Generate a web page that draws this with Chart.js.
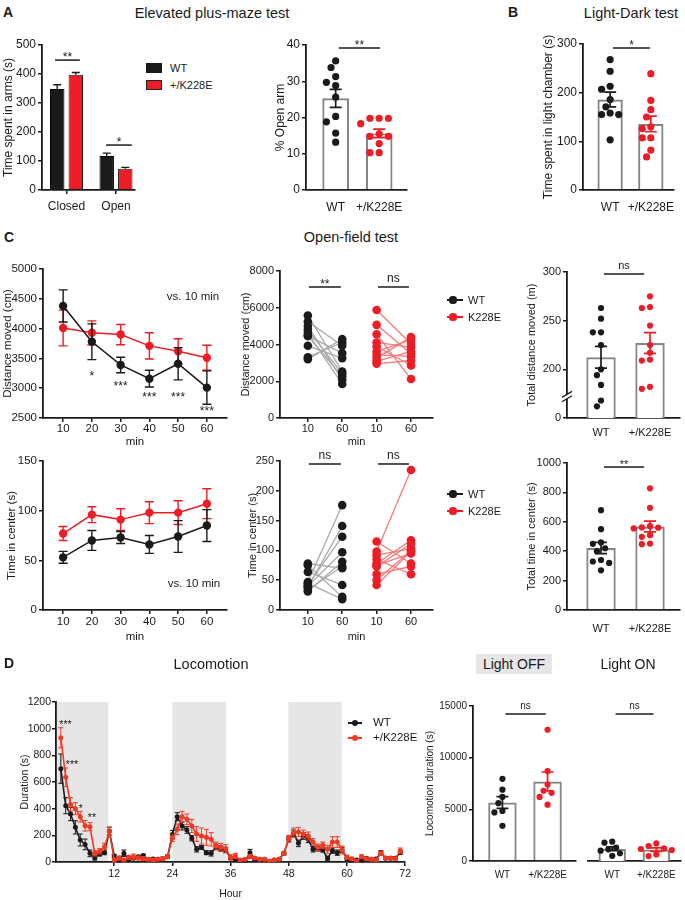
<!DOCTYPE html>
<html>
<head>
<meta charset="utf-8">
<script src="https://cdn.jsdelivr.net/npm/chart.js@4.4.0/dist/chart.umd.min.js"></script>
<style>
body { margin: 0; background: #fff; font-family: "Liberation Sans", Arial, sans-serif; }
#fig { position: relative; width: 685px; height: 900px; overflow: hidden; background: #fff; }
</style>
</head>
<body>
<div id="fig"></div>
<script>
// ---- data ----
const armGroups = ['Closed', 'Open'];
const armWT = [348, 117];
const armWTErr = [15, 10];
const armK = [397, 73];
const armKErr = [8, 5];

const genotypes = ['WT', '+/K228E'];
const openArmWT = [35.6, 33.8, 31.3, 29.7, 28.8, 25.6, 20.3, 18.8, 15.7, 13.2];
const openArmK = [19.8, 19.8, 19.8, 18.3, 15.5, 14.8, 14.8, 12.8, 10.3, 10.3];
const lightDarkWT = [268, 244, 213, 207, 186, 171, 158, 155, 155, 103];
const lightDarkK = [239, 184, 165, 150, 130, 126, 107, 107, 82, 68];

const minutes = [10, 20, 30, 40, 50, 60];
const distWT = [4380, 3780, 3390, 3160, 3410, 3010];
const distWTErr = [270, 300, 130, 140, 270, 280];
const distK = [4010, 3930, 3900, 3710, 3620, 3510];
const distKErr = [300, 200, 170, 220, 210, 210];
const centerWT = [53, 70, 73, 66, 74, 85];
const centerWTErr = [6, 10, 6, 9, 16, 16];
const centerK = [77, 96, 91, 98, 98, 107];
const centerKErr = [7, 8, 11, 11, 12, 15];

const pairLabels = ['10', '60', '10', '60'];
const dist10WT = [5580, 5250, 5010, 4800, 4620, 4470, 4470, 3930, 3310, 3200];
const dist60WT = [2530, 3930, 2080, 2410, 1850, 3530, 2260, 3260, 4110, 4290];
const dist10K = [5880, 5070, 4560, 4110, 3890, 3620, 3440, 3260, 3080, 2950];
const dist60K = [4040, 3490, 2120, 3840, 2860, 4250, 3350, 4400, 3620, 3130];
const center10WT = [78, 75, 64, 47, 45, 42, 40, 38, 34, 31];
const center60WT = [70, 22, 42, 176, 18, 123, 97, 141, 73, 81];
const center10K = [115, 98, 92, 85, 78, 75, 73, 60, 50, 42];
const center60K = [78, 235, 103, 60, 117, 95, 111, 73, 100, 98];

const totalDistWT = [263, 252, 238, 238, 225, 200, 194, 184, 168, 162];
const totalDistK = [275, 264, 263, 245, 225, 217, 210, 209, 182, 180];
const totalCenterWT = [679, 550, 460, 450, 420, 400, 340, 330, 320, 270];
const totalCenterK = [828, 695, 570, 562, 560, 555, 509, 498, 452, 448];

const hours = [1, 2, 3, 4, 5, 6, 7, 8, 9, 10, 11, 12,
  13, 14, 15, 16, 17, 18, 19, 20, 21, 22, 23, 24,
  25, 26, 27, 28, 29, 30, 31, 32, 33, 34, 35, 36,
  37, 38, 39, 40, 41, 42, 43, 44, 45, 46, 47, 48,
  49, 50, 51, 52, 53, 54, 55, 56, 57, 58, 59, 60,
  61, 62, 63, 64, 65, 66, 67, 68, 69, 70, 71];
const locoWT = [700, 422, 360, 260, 165, 132, 65, 30, 60, 70, 232, 45,
  10, 65, 20, 28, 40, 48, 15, 22, 20, 15, 40, 207,
  340, 270, 240, 178, 95, 110, 70, 65, 115, 102, 90, 30,
  20, 5, 5, 70, 20, 15, 20, 5, 15, 20, 65, 170,
  215, 140, 195, 170, 95, 102, 90, 28, 85, 70, 90, 25,
  5, 15, 10, 28, 20, 22, 70, 28, 28, 28, 72];
const locoWTErr = [110, 60, 50, 50, 45, 40, 25, 15, 15, 15, 30, 12,
  10, 25, 10, 10, 10, 10, 8, 8, 8, 8, 12, 30,
  30, 30, 25, 20, 20, 15, 15, 20, 20, 20, 20, 10,
  10, 5, 5, 25, 8, 8, 8, 5, 8, 8, 10, 20,
  25, 25, 25, 25, 20, 20, 15, 15, 20, 20, 20, 10,
  5, 8, 8, 8, 8, 8, 15, 10, 10, 10, 15];
const locoK = [932, 635, 432, 400, 340, 272, 265, 65, 80, 115, 228, 15,
  30, 15, 35, 40, 30, 25, 20, 15, 20, 25, 40, 178,
  245, 340, 320, 270, 210, 195, 185, 170, 120, 110, 100, 35,
  45, 15, 20, 40, 30, 20, 20, 5, 15, 20, 65, 175,
  220, 225, 210, 195, 150, 110, 125, 95, 150, 150, 90, 35,
  25, 5, 40, 25, 20, 15, 65, 30, 30, 25, 85];
const locoKErr = [75, 70, 50, 45, 40, 40, 30, 20, 20, 25, 30, 15,
  15, 10, 15, 20, 15, 15, 10, 10, 10, 15, 15, 25,
  40, 40, 40, 50, 55, 60, 60, 50, 30, 30, 30, 20,
  20, 10, 10, 15, 10, 10, 10, 5, 10, 10, 15, 25,
  35, 35, 30, 30, 25, 25, 25, 30, 40, 40, 30, 15,
  10, 5, 15, 10, 10, 10, 15, 10, 10, 10, 20];
const darkPhases = [[0, 10.8], [24, 35.1], [47.9, 58.9]];

const lightOffWT = [7950, 6900, 6200, 5600, 4850, 4700, 3400];
const lightOffK = [12700, 8700, 7400, 6800, 6600, 6200, 5450];
const lightOnWT = [1870, 1770, 1300, 1130, 1000, 750, 500];
const lightOnK = [1700, 1450, 1220, 1160, 1060, 640, 480];

// ---- drawing ----
const FONT = '"Liberation Sans", Arial, sans-serif';
const INK = '#1a1a1a';
const RED = '#ee1c25';
const ORANGE = '#f03a24';
const fig = document.getElementById('fig');

const mean = a => a.reduce((s, v) => s + v, 0) / a.length;
const sem = a => {
    const m = mean(a);
    return Math.sqrt(a.reduce((s, v) => s + (v - m) * (v - m), 0) / (a.length - 1)) / Math.sqrt(a.length);
};

function text(str, x, y, size, opt = {}) {
    const d = document.createElement('div');
    d.textContent = str;
    d.style.cssText = `position:absolute;left:${x}px;top:${y}px;font-size:${size}px;line-height:1;white-space:nowrap;color:${INK};` +
        `transform:translate(${opt.left ? '0' : '-50%'},-50%);font-weight:${opt.bold ? 'bold' : 'normal'};` +
        (opt.bg ? `background:${opt.bg};padding:${opt.pad};` : '');
    fig.appendChild(d);
}

function box(x, y, w, h, color, border) {
    const d = document.createElement('div');
    d.style.cssText = `position:absolute;left:${x}px;top:${y}px;width:${w}px;height:${h}px;background:${color};box-sizing:border-box;` +
        (border ? `border:1px solid ${border};` : '');
    fig.appendChild(d);
}

function lineKey(x1, x2, cx, y, color, label, tx, size, lw, r) {
    box(x1, y - lw / 2, x2 - x1, lw, color);
    const d = document.createElement('div');
    d.style.cssText = `position:absolute;left:${cx - r}px;top:${y - r}px;width:${2 * r}px;height:${2 * r}px;border-radius:50%;background:${color};`;
    fig.appendChild(d);
    text(label, tx, y, size, { left: true });
}

// error bars drawn right after their own dataset
const errorBars = {
    id: 'errorBars',
    afterDatasetDraw(chart, args) {
        const ds = chart.data.datasets[args.index];
        if (!ds.errors) return;
        const ys = chart.scales[args.meta.yAxisID];
        const ctx = chart.ctx;
        ctx.save();
        ctx.lineWidth = ds.errWidth || 1.4;
        args.meta.data.forEach((el, j) => {
            const d = ds.data[j];
            const v = typeof d === 'object' ? d.y : d;
            const e = ds.errors[j];
            const yTop = ys.getPixelForValue(v + e);
            const yBot = ds.errUp ? el.y : ys.getPixelForValue(v - e);
            const w = (ds.errCap || 8) / 2;
            ctx.strokeStyle = Array.isArray(ds.errColor) ? ds.errColor[j] : (ds.errColor || ds.borderColor);
            ctx.beginPath();
            ctx.moveTo(el.x, yTop); ctx.lineTo(el.x, yBot);
            ctx.moveTo(el.x - w, yTop); ctx.lineTo(el.x + w, yTop);
            if (!ds.errUp) { ctx.moveTo(el.x - w, yBot); ctx.lineTo(el.x + w, yBot); }
            ctx.stroke();
        });
        ctx.restore();
    }
};

// significance bars and stars, given in data units
function sig(marks, size) {
    return {
        id: 'sig',
        afterDraw(chart) {
            const { ctx } = chart;
            const xs = chart.scales.x, ys = chart.scales.y;
            ctx.save();
            ctx.strokeStyle = INK; ctx.fillStyle = INK; ctx.lineWidth = 1.5;
            ctx.textAlign = 'center'; ctx.textBaseline = 'alphabetic';
            ctx.font = size + 'px ' + FONT;
            marks.forEach(m => {
                const y = ys.getPixelForValue(m.y);
                if (m.x2 != null) {
                    const a = xs.getPixelForValue(m.x1), b = xs.getPixelForValue(m.x2);
                    ctx.beginPath(); ctx.moveTo(a, y); ctx.lineTo(b, y); ctx.stroke();
                    ctx.fillText(m.text, (a + b) / 2, m.text === 'ns' ? y - 5 : y + 1);
                } else {
                    ctx.fillText(m.text, xs.getPixelForValue(m.x), y + size * 0.575);
                }
            });
            ctx.restore();
        }
    };
}

function bands(ranges, color) {
    return {
        id: 'bands',
        beforeDraw(chart) {
            const { ctx, chartArea: a } = chart;
            const xs = chart.scales.x;
            ctx.save();
            ctx.fillStyle = color;
            ranges.forEach(([s, e]) => {
                const x1 = xs.getPixelForValue(s), x2 = xs.getPixelForValue(e);
                ctx.fillRect(x1, a.top, x2 - x1, a.bottom - a.top);
            });
            ctx.restore();
        }
    };
}

function axisBreak(value) {
    return {
        id: 'axisBreak',
        afterDraw(chart) {
            const { ctx } = chart;
            const y = chart.scales.y.getPixelForValue(value);
            const x = chart.chartArea.left;
            ctx.save();
            ctx.fillStyle = '#fff';
            ctx.fillRect(x - 3, y - 2, 6, 4);
            ctx.strokeStyle = INK; ctx.lineWidth = 1.3;
            [-2.2, 2.2].forEach(d => {
                ctx.beginPath(); ctx.moveTo(x - 5, y + d + 3); ctx.lineTo(x + 5, y + d - 3); ctx.stroke();
            });
            ctx.restore();
        }
    };
}

// simple beeswarm: offsets computed in pixels, returned in x units
function swarm(values, cx, pxX, pxY, diam) {
    const placed = [];
    const out = new Array(values.length);
    const order = values.map((v, i) => i).sort((a, b) => values[b] - values[a]);
    const steps = [0, -1, 1, -2, 2, -3, 3, -4, 4, -5, 5];
    order.forEach(i => {
        const py = values[i] * pxY;
        let off = 0;
        for (const s of steps) {
            const px = s * diam * 0.6;
            if (placed.every(p => Math.hypot(p.px - px, p.py - py) >= diam)) { off = px; break; }
        }
        placed.push({ px: off, py });
        out[i] = { x: cx + off / pxX, y: values[i] };
    });
    return out;
}

// area = page coordinates of the plot area
function draw(area, o, datasets, plugins, baseType) {
    const f = o.font;
    const left = o.yTitleX != null ? Math.round(o.yTitleX - 0.6 * f) : area.l;
    const top = area.t - (o.padTop || 30);
    const right = area.r + (o.padRight || 6);
    const bottom = o.xTitleY != null ? Math.round(o.xTitleY + 0.6 * f) : area.b + (o.xH || 26);
    const cv = document.createElement('canvas');
    cv.width = right - left;
    cv.height = bottom - top;
    cv.style.cssText = `position:absolute;left:${left}px;top:${top}px;`;
    fig.appendChild(cv);
    const yW = area.l - left, xH = bottom - area.b;
    const font = { size: f, family: FONT };
    const marks = { drawOnChartArea: false, drawTicks: true, tickLength: 4, color: INK, lineWidth: 1.5, offset: false };

    new Chart(cv, {
        type: baseType || 'bar',
        data: { datasets },
        options: {
            responsive: false,
            animation: false,
            events: [],
            layout: { padding: { left: 0, top: area.t - top, right: right - area.r, bottom: 0 } },
            plugins: { legend: { display: false }, tooltip: { enabled: false } },
            scales: {
                x: {
                    type: 'linear', min: o.x.min, max: o.x.max, offset: false,
                    afterFit: s => { s.height = xH; },
                    afterBuildTicks: s => { s.ticks = o.x.ticks.map(v => ({ value: v })); },
                    ticks: { font, color: INK, padding: o.x.pad ?? 3, maxRotation: 0, autoSkip: false, callback: o.x.cb || (v => String(v)) },
                    grid: Object.assign({}, marks, { drawTicks: !!o.x.marks }),
                    border: { color: INK, width: 1.8 },
                    title: { display: !!o.x.title, text: o.x.title || '', font, color: INK, padding: 0 }
                },
                y: {
                    display: !o.y.hidden, min: o.y.min, max: o.y.max,
                    afterFit: s => { s.width = yW; },
                    ticks: { font, color: INK, padding: o.y.pad ?? 2, stepSize: o.y.step, callback: o.y.cb || (v => String(v)) },
                    grid: marks,
                    border: { color: INK, width: 1.8 },
                    title: { display: !!o.y.title, text: o.y.title || '', font, color: INK, padding: 0 }
                }
            }
        },
        plugins: [errorBars].concat(plugins || [])
    });
}

// bar (mean, SEM) with individual animals on top
function dotPlot(area, o, wt, k) {
    const pxX = (area.r - area.l) / (o.x.max - o.x.min);
    const pxY = (area.b - area.t) / (o.y.max - o.y.min);
    const diam = o.r * 2 + 0.6;
    const datasets = [
        {
            type: 'bar', data: [{ x: 0, y: mean(wt) }, { x: 1, y: mean(k) }],
            backgroundColor: '#fff', borderColor: '#858585', borderWidth: 2.2,
            barPercentage: o.bar, categoryPercentage: 1,
            errors: [sem(wt), sem(k)], errColor: [INK, RED], errCap: 12, errWidth: 1.7, order: 3
        },
        {
            type: 'scatter', data: swarm(wt, 0, pxX, pxY, diam),
            backgroundColor: INK, pointBackgroundColor: INK, pointBorderWidth: 0, pointRadius: o.r, order: 1
        },
        {
            type: 'scatter', data: swarm(k, 1, pxX, pxY, diam),
            backgroundColor: RED, pointBackgroundColor: RED, pointBorderWidth: 0, pointRadius: o.r, order: 2
        }
    ];
    o.x.ticks = [0, 1];
    o.x.cb = v => genotypes[v];
    draw(area, o, datasets, [sig(o.sig, o.font)].concat(o.extra || []));
}

function timeCourse(area, o, wt, wtE, k, kE) {
    const ds = (vals, errs, color, order) => ({
        type: 'line', data: minutes.map((m, i) => ({ x: m, y: vals[i] })),
        borderColor: color, backgroundColor: color, pointBackgroundColor: color, pointBorderWidth: 0,
        pointRadius: 4.2, borderWidth: 1.5, errors: errs, errCap: 9, order
    });
    o.x.ticks = minutes;
    draw(area, o, [ds(wt, wtE, INK, 0), ds(k, kE, RED, 1)], [sig(o.stars || [], 12)], 'line');
}

function paired(area, o, a10, a60, b10, b60) {
    const datasets = [];
    const add = (v10, v60, x0, line, dot, order) => {
        v10.forEach((v, i) => {
            datasets.push({
                type: 'line', data: [{ x: x0, y: v }, { x: x0 + 1, y: v60[i] }],
                borderColor: line, borderWidth: 1.3, pointRadius: 0, order: 5
            });
        });
        datasets.push({
            type: 'scatter', data: v10.map(v => ({ x: x0, y: v })).concat(v60.map(v => ({ x: x0 + 1, y: v }))),
            backgroundColor: dot, pointBackgroundColor: dot, pointBorderWidth: 0, pointRadius: 4.3, order
        });
    };
    add(a10, a60, 1, '#a8a8a8', INK, 1);
    add(b10, b60, 3, '#f27a7a', RED, 0);
    o.x.ticks = [1, 2, 3, 4];
    o.x.cb = (v, i) => pairLabels[i];
    draw(area, o, datasets, [sig(o.sig, 12)], 'line');
}

// ---- panel A ----
text('A', 3, 12, 14, { left: true, bold: true });
text('Elevated plus-maze test', 212, 13, 14.5);
draw({ l: 42, t: 45, r: 135, b: 190 }, {
    font: 12, yTitleX: 8.5, xH: 26,
    x: { min: -0.495, max: 1.384, ticks: [0, 1], cb: v => armGroups[v], marks: true, pad: 5 },
    y: { min: 0, max: 500, step: 100, title: 'Time spent in arms (s)' }
}, [
    {
        type: 'bar', data: armWT.map((v, i) => ({ x: i, y: v })), backgroundColor: INK, borderColor: '#000',
        borderWidth: 1, categoryPercentage: 0.75, barPercentage: 0.78, errors: armWTErr, errUp: true, errColor: INK
    },
    {
        type: 'bar', data: armK.map((v, i) => ({ x: i, y: v })), backgroundColor: RED, borderColor: '#222',
        borderWidth: 1, categoryPercentage: 0.75, barPercentage: 0.78, errors: armKErr, errUp: true, errColor: INK
    }
], [sig([{ x1: -0.23, x2: 0.27, y: 448, text: '**' }, { x1: 0.8, x2: 1.32, y: 155, text: '*' }], 12)]);
box(146, 63, 16, 9.5, INK);
box(146, 80, 16, 9.5, RED, '#222');
text('WT', 170, 68, 11, { left: true });
text('+/K228E', 170, 85, 11, { left: true });

dotPlot({ l: 306, t: 45, r: 408, b: 190 }, {
    font: 12, yTitleX: 280, xH: 26, r: 3.6, bar: 0.614,
    x: { min: -0.682, max: 1.636, pad: 10 },
    y: { min: 0, max: 40, step: 10, title: '% Open arm' },
    sig: [{ x1: 0.07, x2: 1.02, y: 39.2, text: '**' }]
}, openArmWT, openArmK);

// ---- panel B ----
text('B', 508, 12, 14, { left: true, bold: true });
text('Light-Dark test', 631, 13, 14.5);
dotPlot({ l: 583, t: 44, r: 682, b: 190 }, {
    font: 12, yTitleX: 548, xH: 26, r: 3.6, bar: 0.622, padRight: 3,
    x: { min: -0.667, max: 1.556, pad: 10 },
    y: { min: 0, max: 300, step: 100, title: 'Time spent in light chamber (s)' },
    sig: [{ x1: 0.07, x2: 0.98, y: 292, text: '*' }]
}, lightDarkWT, lightDarkK);

// ---- panel C ----
text('C', 4, 237, 14, { left: true, bold: true });
text('Open-field test', 351, 237, 14.5);

timeCourse({ l: 43, t: 269, r: 227, b: 418 }, {
    font: 11.5, yTitleX: 8, xTitleY: 442,
    x: { min: 3, max: 67, marks: true, pad: 0, title: 'min' },
    y: { min: 2500, max: 5000, step: 500, title: 'Distance moved (cm)' },
    stars: [
        { x: 20, y: 3260, text: '*' }, { x: 30, y: 3090, text: '***' }, { x: 40, y: 2905, text: '***' },
        { x: 50, y: 2905, text: '***' }, { x: 60, y: 2670, text: '***' }
    ]
}, distWT, distWTErr, distK, distKErr);
text('vs. 10 min', 193, 297, 11.5);

timeCourse({ l: 43, t: 461, r: 227, b: 610 }, {
    font: 11.5, yTitleX: 12, xTitleY: 637,
    x: { min: 3, max: 67, marks: true, pad: 1, title: 'min' },
    y: { min: 0, max: 150, step: 50, title: 'Time in center (s)' }
}, centerWT, centerWTErr, centerK, centerKErr);
text('vs. 10 min', 194, 584, 11.5);

paired({ l: 280, t: 271, r: 433, b: 418 }, {
    font: 11, yTitleX: 246, xTitleY: 442,
    x: { min: 0.19, max: 4.64, marks: true, pad: 0, title: 'min' },
    y: { min: 0, max: 8000, step: 2000, title: 'Distance moved (cm)' },
    sig: [{ x1: 1.03, x2: 1.96, y: 7130, text: '**' }, { x1: 3.04, x2: 3.94, y: 7130, text: 'ns' }]
}, dist10WT, dist60WT, dist10K, dist60K);

paired({ l: 280, t: 461, r: 433, b: 610 }, {
    font: 11, yTitleX: 253, xTitleY: 637,
    x: { min: 0.19, max: 4.64, marks: true, pad: 1, title: 'min' },
    y: { min: 0, max: 250, step: 50, title: 'Time in center (s)' },
    sig: [{ x1: 1.03, x2: 1.96, y: 245, text: 'ns' }, { x1: 3.04, x2: 3.94, y: 245, text: 'ns' }]
}, center10WT, center60WT, center10K, center60K);

lineKey(447, 463, 453, 300, INK, 'WT', 468, 11, 1.5, 3.6);
lineKey(447, 463, 453, 317, RED, 'K228E', 468, 11, 1.5, 3.6);
lineKey(447, 463, 453, 494, INK, 'WT', 468, 11, 1.5, 3.6);
lineKey(447, 463, 453, 511, RED, 'K228E', 468, 11, 1.5, 3.6);

dotPlot({ l: 567, t: 272, r: 680, b: 418 }, {
    font: 11, yTitleX: 532, xH: 26, r: 3.1, bar: 0.6,
    x: { min: -0.694, max: 1.612, pad: 8 },
    y: { min: 150, max: 300, step: 50, title: 'Total distance moved (m)', cb: v => (v === 150 ? '0' : String(v)) },
    sig: [{ x1: 0.06, x2: 0.88, y: 298, text: 'ns' }],
    extra: [axisBreak(172)]
}, totalDistWT, totalDistK);

dotPlot({ l: 567, t: 463, r: 680, b: 610 }, {
    font: 11, yTitleX: 532, xH: 30, r: 3.1, bar: 0.6,
    x: { min: -0.694, max: 1.612, pad: 12 },
    y: { min: 0, max: 1000, step: 200, title: 'Total time in center (s)' },
    sig: [{ x1: 0.06, x2: 0.88, y: 973, text: '**' }]
}, totalCenterWT, totalCenterK);

// ---- panel D ----
text('D', 4, 663, 14, { left: true, bold: true });
text('Locomotion', 211, 664, 14.5);

draw({ l: 56, t: 702, r: 407, b: 862 }, {
    font: 10.5, yTitleX: 25, xTitleY: 894,
    x: { min: 0, max: 72, ticks: [12, 24, 36, 48, 60, 72], marks: true, pad: 2, title: 'Hour' },
    y: { min: 0, max: 1200, step: 200, title: 'Duration (s)', pad: 1 }
}, [
    {
        type: 'line', data: hours.map((h, i) => ({ x: h, y: locoK[i] })), borderColor: ORANGE, backgroundColor: ORANGE,
        pointBackgroundColor: ORANGE, pointBorderWidth: 0, pointRadius: 2.5, borderWidth: 1.6,
        errors: locoKErr, errCap: 5, errWidth: 1, order: 0
    },
    {
        type: 'line', data: hours.map((h, i) => ({ x: h, y: locoWT[i] })), borderColor: INK, backgroundColor: INK,
        pointBackgroundColor: INK, pointBorderWidth: 0, pointRadius: 2.5, borderWidth: 1.6,
        errors: locoWTErr, errCap: 5, errWidth: 1, order: 1
    }
], [bands(darkPhases, '#e6e6e6'), sig([
    { x: 1.95, y: 1050, text: '***' }, { x: 3.3, y: 750, text: '***' },
    { x: 5.1, y: 420, text: '*' }, { x: 7.4, y: 352, text: '**' }
], 10.5)], 'line');
lineKey(348, 362, 355, 723, INK, 'WT', 373, 11.5, 2, 3);
lineKey(348, 362, 355, 738, ORANGE, '+/K228E', 373, 11.5, 2, 3);

text('Light OFF', 514, 664, 14, { bg: '#e6e6e6', pad: '3px 7px' });
text('Light ON', 628, 664, 14);

dotPlot({ l: 473, t: 706, r: 578, b: 861 }, {
    font: 10, yTitleX: 430, xH: 28, r: 3.1, bar: 0.63, padRight: 2,
    x: { min: -0.652, max: 1.63, pad: 8 },
    y: { min: 0, max: 15000, step: 5000, title: 'Locomotion duration (s)' },
    sig: [{ x1: 0.065, x2: 0.96, y: 14226, text: 'ns' }]
}, lightOffWT, lightOffK);

dotPlot({ l: 584, t: 706, r: 682, b: 861 }, {
    font: 10, xH: 28, r: 3.1, bar: 0.62, padRight: 3,
    x: { min: -0.55, max: 1.56, pad: 8 },
    y: { min: 0, max: 15000, step: 5000, hidden: true },
    sig: [{ x1: 0.075, x2: 0.935, y: 14226, text: 'ns' }]
}, lightOnWT, lightOnK);
</script>
</body>
</html>
